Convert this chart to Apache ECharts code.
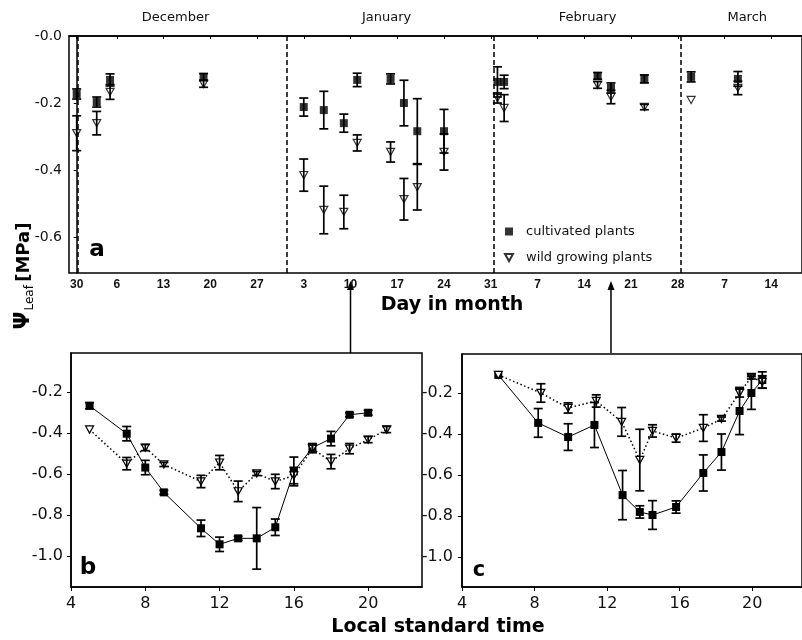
<!DOCTYPE html>
<html><head><meta charset="utf-8">
<script src="https://cdn.jsdelivr.net/npm/echarts@6/dist/echarts.min.js"></script>
<style>html,body{margin:0;padding:0;background:#fff}#c{width:802px;height:640px}</style>
</head><body><div id="c"></div>
<script>
// ---------- Panel a: seasonal course (day index, 0 = 30 November) ----------
const seasonDays     = [0, 3, 5, 19, 34, 37, 40, 42, 47, 49, 51, 55, 63, 64, 78, 80, 85, 92, 99];
const seasonCult     = [-0.173,-0.197,-0.131,-0.122,-0.212,-0.221,-0.260,-0.131,-0.128,-0.200,-0.284,-0.284,-0.137,-0.137,-0.119,-0.155,-0.128,-0.122,-0.128];
const seasonCultErr  = [0.015,0.015,0.018,0.010,0.027,0.056,0.027,0.020,0.015,0.068,0.097,0.065,0.045,0.020,0.010,0.015,0.012,0.015,0.022];
const seasonWild     = [-0.290,-0.260,-0.167,-0.143,-0.415,-0.519,-0.525,-0.319,-0.346,-0.487,-0.451,-0.346,-0.185,-0.215,-0.146,-0.182,-0.212,-0.191,-0.155];
const seasonWildErr  = [0.052,0.035,0.022,0.010,0.048,0.071,0.050,0.024,0.030,0.062,0.068,0.054,0.015,0.040,0.010,0.020,0.008,0,0.020];
const dayTickValues  = [0, 6, 13, 20, 27, 34, 41, 48, 55, 62, 69, 76, 83, 90, 97, 104];
const dayTickLabels  = ['30','6','13','20','27','3','10','17','24','31','7','14','21','28','7','14'];
const monthBoundaries = [0.1, 31.5, 62.5, 90.5];
const monthNames     = ['December', 'January', 'February', 'March'];
const monthLabelDays = [14.8, 46.4, 76.5, 100.4];
const psiTicksA      = [0, -0.2, -0.4, -0.6];
const arrowDays      = [41, 80];   // 10 January -> panel b, 18 February -> panel c

// ---------- Panel b: diurnal course, 10 January ----------
const hoursB     = [5, 7, 8, 9, 11, 12, 13, 14, 15, 16, 17, 18, 19, 20];
const cultB      = [-0.267,-0.403,-0.568,-0.689,-0.864,-0.942,-0.913,-0.913,-0.859,-0.587,-0.471,-0.427,-0.311,-0.301];
const cultBErr   = [0.015,0.035,0.035,0.010,0.040,0.035,0.010,0.150,0.040,0.070,0.020,0.035,0.010,0.012];
const hoursBW    = [5, 7, 8, 9, 11, 12, 13, 14, 15, 16, 17, 18, 19, 20, 21];
const wildB      = [-0.383,-0.549,-0.471,-0.553,-0.636,-0.544,-0.684,-0.597,-0.636,-0.607,-0.476,-0.539,-0.476,-0.432,-0.383];
const wildBErr   = [0,0.030,0.015,0.010,0.030,0.035,0.050,0.010,0.035,0.040,0.020,0.035,0.025,0.015,0.015];

// ---------- Panel c: diurnal course, 18 February ----------
const hoursC     = [6, 8.2, 9.85, 11.3, 12.85, 13.8, 14.5, 15.8, 17.3, 18.3, 19.3, 19.95, 20.55];
const cultC      = [-0.112,-0.346,-0.415,-0.356,-0.698,-0.780,-0.795,-0.756,-0.590,-0.488,-0.288,-0.200,-0.137];
const cultCErr   = [0,0.070,0.065,0.110,0.120,0.030,0.070,0.030,0.088,0.088,0.115,0.080,0.040];
const hoursCW    = [6, 8.35, 9.85, 11.4, 12.8, 13.8, 14.5, 15.8, 17.3, 18.3, 19.3, 19.95, 20.55];
const wildC      = [-0.112,-0.200,-0.273,-0.239,-0.341,-0.527,-0.385,-0.420,-0.371,-0.327,-0.200,-0.122,-0.146];
const wildCErr   = [0,0.045,0.025,0.030,0.070,0.150,0.030,0.020,0.065,0.010,0.020,0.010,0.030];

const hourTicks  = [4, 8, 12, 16, 20];
const psiTicksBC = [-0.2, -0.4, -0.6, -0.8, -1.0];

const BLACK = '#000';
const TXT = '#111';
const TRI = 'path://M0,0L10,0L5,9Z';

function pairs(xs, ys) { return xs.map((x, i) => [x, ys[i]]); }
function errData(xs, ys, es) {
  const out = [];
  xs.forEach((x, i) => { if (es[i] > 0) out.push([x, ys[i] - es[i], ys[i] + es[i]]); });
  return out;
}
function errRender(params, api) {
  const x = api.value(0);
  const p1 = api.coord([x, api.value(1)]);
  const p2 = api.coord([x, api.value(2)]);
  const w = 4.5;
  const st = { stroke: BLACK, lineWidth: 1.7 };
  return { type: 'group', children: [
    { type: 'line', shape: { x1: p1[0], y1: p1[1], x2: p2[0], y2: p2[1] }, style: st },
    { type: 'line', shape: { x1: p1[0] - w, y1: p1[1], x2: p1[0] + w, y2: p1[1] }, style: st },
    { type: 'line', shape: { x1: p2[0] - w, y1: p2[1], x2: p2[0] + w, y2: p2[1] }, style: st }
  ]};
}
function errSeries(gi, data) {
  return { type: 'custom', xAxisIndex: gi, yAxisIndex: gi, renderItem: errRender,
           data: data, encode: { x: 0, y: [1, 2] }, z: 5, silent: true, clip: false };
}
const fmt1 = v => (Math.abs(v) < 1e-9 ? '-0.0' : v.toFixed(1));

const chart = echarts.init(document.getElementById('c'), null, { renderer: 'canvas' });

const option = {
  animation: false,
  backgroundColor: '#fff',
  grid: [
    { left: 69, top: 36, right: -4, height: 237, show: true, borderColor: BLACK, borderWidth: 1.5 },
    { left: 71, top: 353, width: 351, height: 234, show: true, borderColor: BLACK, borderWidth: 1.5 },
    { left: 462, top: 354, right: -4, height: 233, show: true, borderColor: BLACK, borderWidth: 1.5 }
  ],
  xAxis: [
    { gridIndex: 0, type: 'value', min: -1.15, max: 108.6,
      axisLine: { lineStyle: { color: BLACK, width: 1.5 } },
      axisTick: { show: true, length: 3, customValues: dayTickValues, lineStyle: { color: BLACK } },
      axisLabel: { customValues: dayTickValues, margin: 6, color: TXT,
                   fontFamily: 'Liberation Sans', fontWeight: 'bold', fontSize: 12,
                   formatter: v => dayTickLabels[dayTickValues.indexOf(v)] },
      splitLine: { show: false } },
    { gridIndex: 1, type: 'value', min: 4, max: 22.9,
      axisLine: { lineStyle: { color: BLACK, width: 1.5 } },
      axisTick: { show: true, length: 4, customValues: hourTicks, lineStyle: { color: BLACK } },
      axisLabel: { customValues: hourTicks, margin: 9, color: TXT, fontFamily: 'DejaVu Sans', fontSize: 16 },
      splitLine: { show: false } },
    { gridIndex: 2, type: 'value', min: 4, max: 22.74,
      axisLine: { lineStyle: { color: BLACK, width: 1.5 } },
      axisTick: { show: true, length: 4, customValues: hourTicks, lineStyle: { color: BLACK } },
      axisLabel: { customValues: hourTicks, margin: 9, color: TXT, fontFamily: 'DejaVu Sans', fontSize: 16 },
      splitLine: { show: false } }
  ],
  yAxis: [
    { gridIndex: 0, type: 'value', min: -0.707, max: 0,
      axisLine: { show: true, lineStyle: { color: BLACK, width: 1.5 } },
      axisTick: { show: true, length: 3, customValues: psiTicksA, lineStyle: { color: BLACK } },
      axisLabel: { customValues: psiTicksA, margin: 7, color: TXT, fontFamily: 'DejaVu Sans', fontSize: 14, formatter: fmt1 },
      splitLine: { show: false } },
    { gridIndex: 1, type: 'value', min: -1.15, max: -0.01,
      axisLine: { show: true, lineStyle: { color: BLACK, width: 1.5 } },
      axisTick: { show: true, length: 4, customValues: psiTicksBC, lineStyle: { color: BLACK } },
      axisLabel: { customValues: psiTicksBC, margin: 8, color: TXT, fontFamily: 'DejaVu Sans', fontSize: 16, formatter: fmt1 },
      splitLine: { show: false } },
    { gridIndex: 2, type: 'value', min: -1.146, max: -0.01,
      axisLine: { show: true, lineStyle: { color: BLACK, width: 1.5 } },
      axisTick: { show: true, length: 4, customValues: psiTicksBC, lineStyle: { color: BLACK } },
      axisLabel: { customValues: psiTicksBC, margin: 9, color: TXT, fontFamily: 'DejaVu Sans', fontSize: 16, formatter: fmt1 },
      splitLine: { show: false } }
  ],
  legend: {
    orient: 'vertical', left: 499, top: 220, itemWidth: 8, itemHeight: 8, itemGap: 13,
    data: ['cultivated plants', 'wild growing plants'],
    textStyle: { fontFamily: 'DejaVu Sans', fontSize: 13, color: TXT, padding: [0, 0, 0, 8] },
    selectedMode: false
  },
  series: [
    { name: 'cultivated plants', type: 'scatter', xAxisIndex: 0, yAxisIndex: 0, z: 3,
      symbol: 'rect', symbolSize: 8, itemStyle: { color: BLACK },
      data: pairs(seasonDays, seasonCult),
      markLine: { silent: true, symbol: ['none', 'none'], label: { show: false },
                  lineStyle: { color: BLACK, width: 1.5, type: [5, 3] },
                  data: monthBoundaries.map(v => ({ xAxis: v })) } },
    { name: 'wild growing plants', type: 'scatter', xAxisIndex: 0, yAxisIndex: 0, z: 3,
      symbol: TRI, symbolSize: 8, symbolKeepAspect: true,
      itemStyle: { color: '#fff', borderColor: BLACK, borderWidth: 1.2 },
      data: pairs(seasonDays, seasonWild) },
    errSeries(0, errData(seasonDays, seasonCult, seasonCultErr)),
    errSeries(0, errData(seasonDays, seasonWild, seasonWildErr)),

    { name: 'cultivated plants', type: 'line', xAxisIndex: 1, yAxisIndex: 1, z: 3,
      symbol: 'rect', symbolSize: 8, itemStyle: { color: BLACK },
      lineStyle: { color: BLACK, width: 1 }, data: pairs(hoursB, cultB) },
    { name: 'wild growing plants', type: 'line', xAxisIndex: 1, yAxisIndex: 1, z: 3,
      symbol: TRI, symbolSize: 8, symbolKeepAspect: true,
      itemStyle: { color: '#fff', borderColor: BLACK, borderWidth: 1.2 },
      lineStyle: { color: BLACK, width: 1.5, type: [1.5, 2.5] }, data: pairs(hoursBW, wildB) },
    errSeries(1, errData(hoursB, cultB, cultBErr)),
    errSeries(1, errData(hoursBW, wildB, wildBErr)),

    { name: 'cultivated plants', type: 'line', xAxisIndex: 2, yAxisIndex: 2, z: 3,
      symbol: 'rect', symbolSize: 8, itemStyle: { color: BLACK },
      lineStyle: { color: BLACK, width: 1 }, data: pairs(hoursC, cultC) },
    { name: 'wild growing plants', type: 'line', xAxisIndex: 2, yAxisIndex: 2, z: 3,
      symbol: TRI, symbolSize: 8, symbolKeepAspect: true,
      itemStyle: { color: '#fff', borderColor: BLACK, borderWidth: 1.2 },
      lineStyle: { color: BLACK, width: 1.5, type: [1.5, 2.5] }, data: pairs(hoursCW, wildC) },
    errSeries(2, errData(hoursC, cultC, cultCErr)),
    errSeries(2, errData(hoursCW, wildC, wildCErr))
  ]
};
chart.setOption(option);

// Annotations placed through the axes' own scales
const g = [];
monthNames.forEach((m, i) => {
  g.push({ type: 'text', x: chart.convertToPixel({ xAxisIndex: 0 }, monthLabelDays[i]), y: 18,
    style: { text: m, fontFamily: 'DejaVu Sans', fontSize: 13, fill: TXT, align: 'center', verticalAlign: 'middle' } });
});
arrowDays.forEach(d => {
  const x = chart.convertToPixel({ xAxisIndex: 0 }, d);
  g.push({ type: 'line', shape: { x1: x, y1: 288, x2: x, y2: 353 }, style: { stroke: BLACK, lineWidth: 1.5 } });
  g.push({ type: 'polygon', shape: { points: [[x, 281], [x - 3.5, 290], [x + 3.5, 290]] }, style: { fill: BLACK } });
});
g.push({ type: 'text', x: 452, y: 305, style: { text: 'Day in month', fontFamily: 'DejaVu Sans', fontWeight: 'bold', fontSize: 19, fill: BLACK, align: 'center', verticalAlign: 'middle' } });
g.push({ type: 'text', x: 438, y: 627, style: { text: 'Local standard time', fontFamily: 'DejaVu Sans', fontWeight: 'bold', fontSize: 19, fill: BLACK, align: 'center', verticalAlign: 'middle' } });
g.push({ type: 'text', x: 97, y: 250, style: { text: 'a', fontFamily: 'DejaVu Sans', fontWeight: 'bold', fontSize: 23, fill: BLACK, align: 'center', verticalAlign: 'middle' } });
g.push({ type: 'text', x: 88, y: 568, style: { text: 'b', fontFamily: 'DejaVu Sans', fontWeight: 'bold', fontSize: 23, fill: BLACK, align: 'center', verticalAlign: 'middle' } });
g.push({ type: 'text', x: 479, y: 571, style: { text: 'c', fontFamily: 'DejaVu Sans', fontWeight: 'bold', fontSize: 21, fill: BLACK, align: 'center', verticalAlign: 'middle' } });
g.push({ type: 'text', x: 24, y: 276, rotation: Math.PI / 2,
  style: { text: '{p|Ψ}{s|Leaf} {u|[MPa]}', align: 'center', verticalAlign: 'middle', fill: BLACK,
    rich: {
      p: { fontFamily: 'DejaVu Sans', fontWeight: 'bold', fontSize: 21, lineHeight: 24, verticalAlign: 'middle' },
      s: { fontFamily: 'DejaVu Sans', fontSize: 12, lineHeight: 24, verticalAlign: 'bottom', padding: [6, 0, 0, 1] },
      u: { fontFamily: 'DejaVu Sans', fontWeight: 'bold', fontSize: 18, lineHeight: 24, verticalAlign: 'middle' }
    } } });
chart.setOption({ graphic: g });
</script></body></html>
